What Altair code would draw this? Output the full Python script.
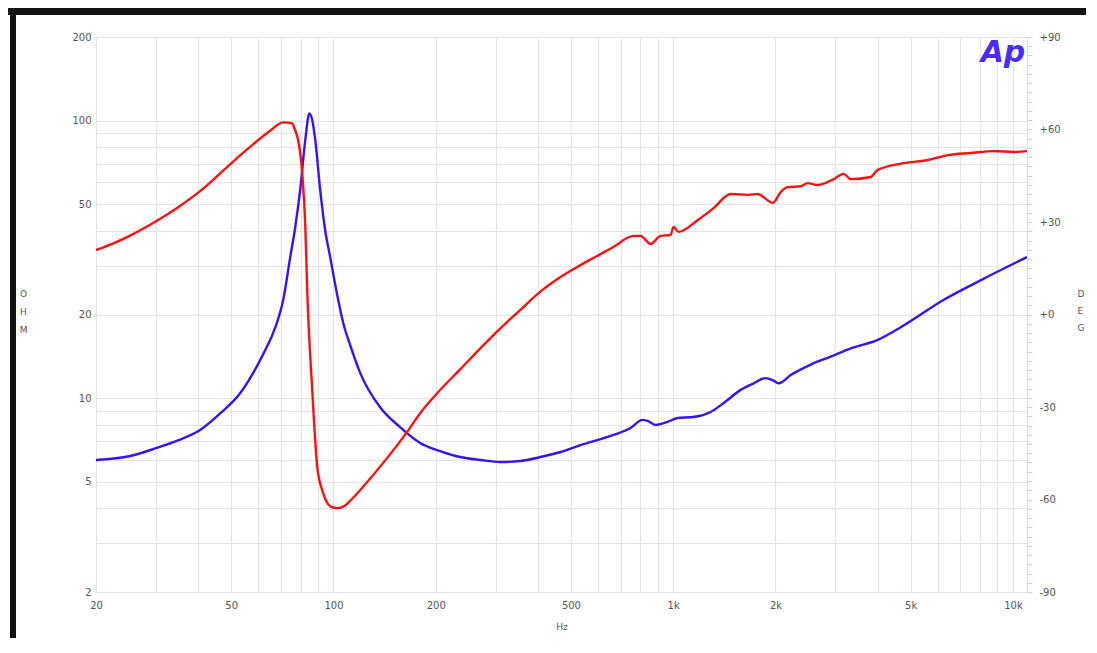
import altair as alt
import pandas as pd

# ---- data ----
blue_freq = [20, 25.2, 30.2, 35, 40.5, 46.4, 53.1, 58.0, 63.0, 65.7, 68.3, 71.1, 74.6, 77.0, 79.8,
             82.6, 84.9, 86.6, 88.4, 91.4, 94.6, 97.8, 101.9, 106.9, 112, 119.9, 137, 157, 180,
             206, 236, 271, 310, 355, 407, 466, 533, 667, 749, 812, 840, 887, 962, 1030, 1148,
             1289, 1408, 1580, 1725, 1871, 1962, 2044, 2218, 2540, 2908, 3330, 4000, 4676, 6260,
             8048, 11000]
blue_ohm = [5.98, 6.18, 6.61, 7.05, 7.67, 8.8, 10.4, 12.3, 14.9, 16.6, 18.8, 22.5, 32.2, 40.5,
            56.2, 85, 106, 100.5, 85, 56.2, 40.0, 32.2, 24.5, 18.6, 15.5, 12.3, 9.28, 7.86, 6.89,
            6.44, 6.13, 5.98, 5.88, 5.93, 6.13, 6.39, 6.77, 7.36, 7.80, 8.34, 8.27, 8.00, 8.20,
            8.47, 8.54, 8.91, 9.60, 10.7, 11.3, 11.8, 11.6, 11.3, 12.1, 13.2, 14.1, 15.1, 16.2,
            18.0, 22.6, 26.6, 32.2]

red_freq = [20, 22.5, 25.2, 27.5, 30.2, 35, 40.5, 44, 46.4, 50, 53.1, 58.0, 65.1, 71.1, 75.6,
            77.0, 78.7, 79.8, 80.9, 82.6, 83.7, 86.6, 89.6, 93, 95.9, 98.5, 102.6, 108, 113,
            119.9, 144, 165, 180, 206, 236, 271, 310, 355, 407, 466, 533, 609, 667, 764, 801,
            858, 918, 982, 1002, 1037, 1180, 1315, 1476, 1656, 1773, 1962, 2072, 2172, 2374,
            2488, 2662, 2968, 3176, 3330, 3816, 4000, 4772, 5616, 6432, 7518, 8788, 10066, 11000]
red_deg = [20.9, 23.1, 25.6, 27.8, 30.4, 34.9, 40.0, 43.4, 45.8, 49.0, 51.6, 55.2, 59.6, 62.3,
           62.0, 60.0, 56.6, 52.4, 45.9, 29, 7.9, -24.5, -49.5, -57.5, -61.1, -62.4, -62.8,
           -62.0, -60.0, -56.9, -46.5, -38.0, -32.0, -24.5, -17.8, -10.9, -4.5, 1.5, 7.5, 12.2,
           16.0, 19.5, 21.9, 25.5, 25.5, 22.9, 25.5, 25.8, 28.4, 26.8, 30.6, 34.5, 39.1, 38.8,
           39.1, 36.2, 39.7, 41.3, 41.6, 42.6, 42, 43.9, 45.6, 43.9, 44.6, 46.9, 49.1, 50.1,
           51.7, 52.4, 53, 52.7, 53]

x_grid = [20, 30, 40, 50, 60, 70, 80, 90, 100, 200, 300, 400, 500, 600, 700, 800, 900,
          1000, 2000, 3000, 4000, 5000, 6000, 7000, 8000, 9000, 10000]
x_labels = {20: "20", 50: "50", 100: "100", 200: "200", 500: "500",
            1000: "1k", 2000: "2k", 5000: "5k", 10000: "10k"}
y_grid = [2, 3, 4, 5, 6, 7, 8, 9, 10, 20, 30, 40, 50, 60, 70, 80, 90, 100, 200]
y_labels = [2, 5, 10, 20, 50, 100, 200]
deg_ticks = list(range(-90, 91, 3))
deg_labels = {90: "+90", 60: "+60", 30: "+30", 0: "+0", -30: "-30", -60: "-60", -90: "-90"}

blue_df = pd.DataFrame({"f": blue_freq, "ohm": blue_ohm})
red_df = pd.DataFrame({"f": red_freq, "deg": red_deg})

FONT = "DejaVu Sans"
LBL = "#555555"
GRID = "#e4e4e4"

x_expr = " : ".join(f"datum.value == {k} ? '{v}'" for k, v in x_labels.items()) + " : ''"
y_expr = "indexof([" + ",".join(str(v) for v in y_labels) + "], datum.value) >= 0 ? format(datum.value, 'd') : ''"
d_expr = " : ".join(f"datum.value == {k} ? '{v}'" for k, v in deg_labels.items()) + " : ''"

x_enc = alt.X("f:Q",
              scale=alt.Scale(type="log", domain=[20, 11000], nice=False),
              axis=alt.Axis(values=x_grid, labelExpr=x_expr, grid=True, gridColor=GRID,
                            gridWidth=1.2, ticks=False, domain=False, labelFlush=False,
                            labelOverlap=False, labelPadding=8, labelFont=FONT, labelFontSize=10,
                            labelColor=LBL, title="Hz", titleFont=FONT, titleFontSize=9,
                            titleFontWeight="normal", titleColor=LBL, titlePadding=12))

blue = alt.Chart(blue_df).mark_line(color="#3a10ff", strokeWidth=2.4, clip=True,
                                    interpolate="monotone").encode(
    x=x_enc,
    y=alt.Y("ohm:Q",
            scale=alt.Scale(type="log", domain=[2, 200], nice=False),
            axis=alt.Axis(orient="left", values=y_grid, labelExpr=y_expr, grid=True,
                          gridColor=GRID, gridWidth=1.2, ticks=False, domain=False,
                          labelFlush=False, labelOverlap=False, labelPadding=5,
                          labelFont=FONT, labelFontSize=10, labelColor=LBL,
                          title=["O", "H", "M"], titleAngle=0, titleX=-73, titleY=252,
                          titleAlign="center", titleBaseline="top", titleLineHeight=18,
                          titleFont=FONT, titleFontSize=9, titleFontWeight="normal",
                          titleColor=LBL)),
)

red = alt.Chart(red_df).mark_line(color="#ff1010", strokeWidth=2.4, clip=True,
                                  interpolate="monotone").encode(
    x=alt.X("f:Q", scale=alt.Scale(type="log", domain=[20, 11000], nice=False)),
    y=alt.Y("deg:Q",
            scale=alt.Scale(domain=[-90, 90], nice=False),
            axis=alt.Axis(orient="right", values=deg_ticks, labelExpr=d_expr, grid=False,
                          ticks=True, tickSize=5, tickColor="#cfcfcf", domain=False,
                          labelFlush=False, labelOverlap=False, labelPadding=7,
                          labelFont=FONT, labelFontSize=10, labelColor=LBL,
                          title=["D", "E", "G"], titleAngle=0, titleX=50, titleY=252,
                          titleAlign="left", titleBaseline="top", titleLineHeight=17,
                          titleFont=FONT, titleFontSize=9, titleFontWeight="normal",
                          titleColor=LBL)),
)

one = pd.DataFrame({"a": [0]})
logo = alt.Chart(one).mark_text(text="Ap", font=FONT, fontSize=30, fontWeight="bold",
                                fontStyle="italic", color="#4a2cff", align="center",
                                baseline="alphabetic").encode(x=alt.value(907), y=alt.value(25))
top_band = alt.Chart(one).mark_rect(color="#111111").encode(
    x=alt.value(-88), x2=alt.value(995), y=alt.value(-29), y2=alt.value(-22))
left_bar = alt.Chart(one).mark_rect(color="#111111").encode(
    x=alt.value(-86), x2=alt.value(-80), y=alt.value(-29), y2=alt.value(610))

lines = alt.layer(blue, red).resolve_scale(y="independent")

chart = alt.layer(lines, logo, top_band, left_bar).properties(
    width=931, height=555,
    autosize=alt.AutoSizeParams(type="none"),
    padding={"left": 88, "top": 29, "right": 59, "bottom": 46},
).configure_view(stroke="#dcdcdc", strokeWidth=1.2).configure(background="white")

chart.save("out.html", embed_options={"renderer": "svg", "actions": False})
